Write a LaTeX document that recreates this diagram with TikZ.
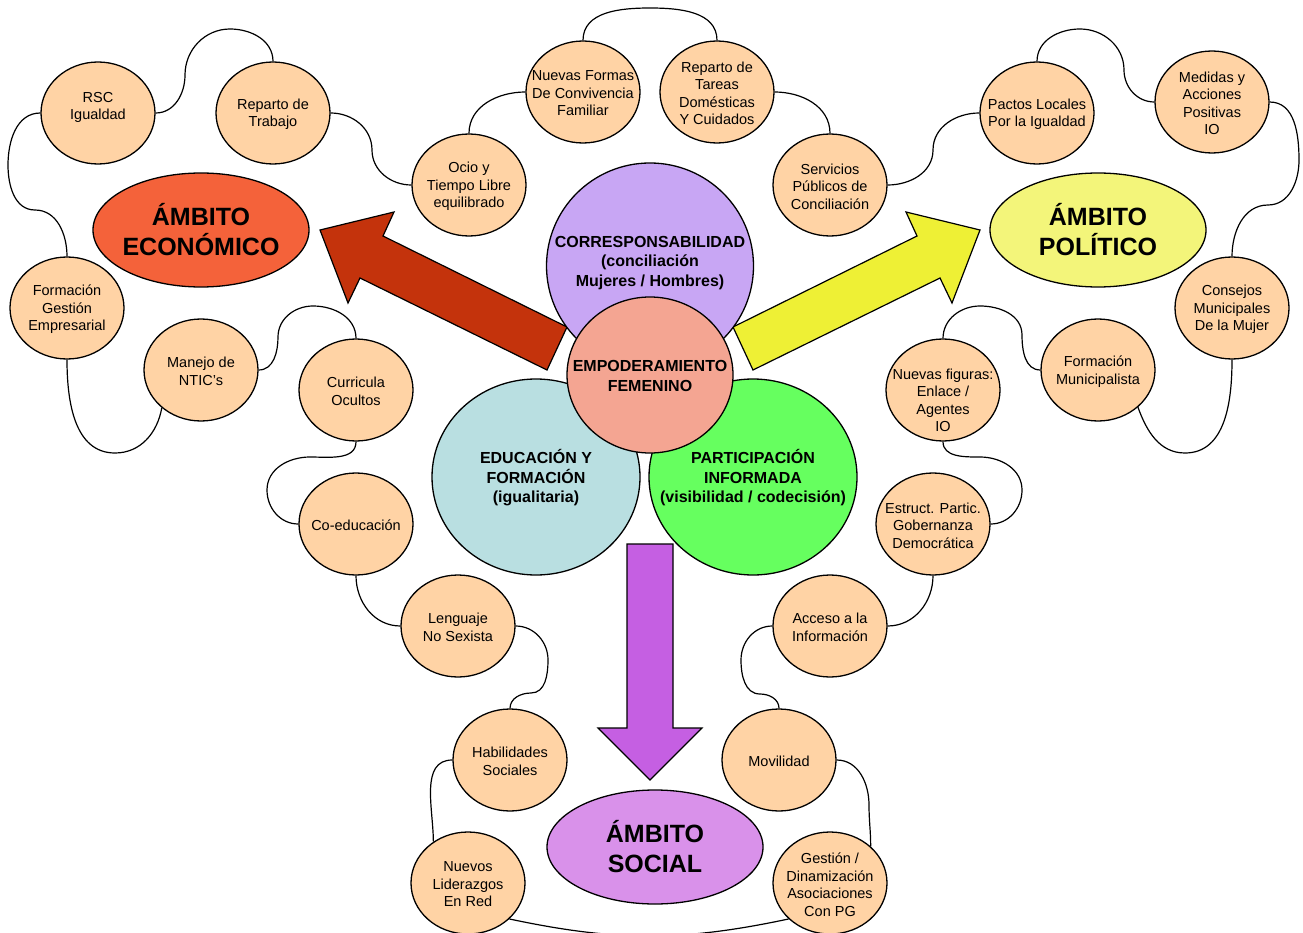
\documentclass[tikz,border=0pt]{standalone}
\usepackage{fontspec}
\setmainfont{Liberation Sans}
\usetikzlibrary{shapes.geometric}
\definecolor{peach}{HTML}{FFD3A5}
\definecolor{ecoc}{HTML}{F4623A}
\definecolor{redarr}{HTML}{C4330C}
\definecolor{polc}{HTML}{F3F57A}
\definecolor{yelarr}{HTML}{EEF035}
\definecolor{socc}{HTML}{D991EA}
\definecolor{purarr}{HTML}{C55FE2}
\definecolor{corrc}{HTML}{C8A6F4}
\definecolor{empc}{HTML}{F4A592}
\definecolor{educ}{HTML}{B9DFE1}
\definecolor{parc}{HTML}{66FF5F}
\newcommand{\bub}[3]{\node[bubble] (#1) at (#2) {}; \node[btext] (#1t) at (#1.center) {#3};}
\begin{document}
\begin{tikzpicture}[x=1pt,y=1pt,
  bubble/.style={ellipse,draw=black,line width=1.3pt,fill=peach,minimum width=114pt,minimum height=102pt,inner sep=0pt},
  btext/.style={align=center,font=\fontsize{14.5}{17.5}\selectfont,inner sep=0pt,text=black,yshift=-1.5pt},
  ambito/.style={ellipse,draw=black,line width=1.3pt,minimum width=216pt,minimum height=114pt,inner sep=0pt},
  atext/.style={align=center,font=\fontsize{25}{30}\selectfont\bfseries,inner sep=0pt},
  big/.style={ellipse,draw=black,line width=1.3pt,inner sep=0pt},
  bigtext/.style={align=center,font=\fontsize{16}{19.5}\selectfont\bfseries,inner sep=0pt,yshift=-1pt},
  link/.style={line width=1.2pt,draw=black},
  blockarrow/.style={draw=black,line width=1.2pt,line join=miter}
]
\useasboundingbox (0,0) rectangle (1303,-933);

% small bubbles
\bub{rsc}{98,-113}{RSC\\Igualdad\\\mbox{}}
\bub{rtra}{273,-113}{Reparto de\\Trabajo}
\bub{ocio}{469,-185}{Ocio y\\Tiempo Libre\\equilibrado}
\bub{nf}{583,-92}{Nuevas Formas\\De Convivencia\\Familiar}
\bub{rt}{717,-92}{Reparto de\\Tareas\\Domésticas\\Y Cuidados}
\bub{sp}{830,-185}{Servicios\\Públicos de\\Conciliación}
\bub{pl}{1037,-113}{Pactos Locales\\Por la Igualdad}
\bub{med}{1212,-102}{Medidas y\\Acciones\\Positivas\\IO}
\bub{cons}{1232,-308}{Consejos\\Municipales\\De la Mujer}
\bub{fge}{67,-308}{Formación\\Gestión\\Empresarial}
\bub{man}{201,-370}{Manejo de\\NTIC’s}
\bub{cur}{356,-390}{Curricula\\Ocultos}
\bub{coed}{356,-524}{Co-educación}
\bub{len}{458,-626}{Lenguaje\\No Sexista}
\bub{hab}{510,-760}{Habilidades\\Sociales}
\bub{lid}{468,-883}{Nuevos\\Liderazgos\\En Red}
\bub{acc}{830,-626}{Acceso a la\\Información}
\bub{mov}{779,-760}{Movilidad}
\bub{ges}{830,-883}{Gestión /\\Dinamización\\Asociaciones\\Con PG}
\bub{fm}{1098,-370}{Formación\\Municipalista}
\node[bubble] (nfig) at (943,-390) {};
\node[btext] (nfigt) at (943,-399) {Nuevas figuras:\\Enlace /\\Agentes\\IO};
\bub{est}{933,-524}{Estruct. Partic.\\Gobernanza\\Democrática}

% connectors
\draw[link] (rsc.west) to[out=180,in=90] (8,-165) to[out=-90,in=180] (35,-210) to[out=0,in=90] (fge.north);
\draw[link] (rsc.east) to[out=0,in=-90] (185,-75) to[out=90,in=180] (230,-29) to[out=0,in=90] (rtra.north);
\draw[link] (rtra.east) to[out=0,in=90] (372,-150) to[out=-90,in=180] (ocio.west);
\draw[link] (ocio.north) to[out=90,in=180] (nf.west);
\draw[link] (nf.north) to[out=90,in=180] (650,-8) to[out=0,in=90] (rt.north);
\draw[link] (rt.east) to[out=0,in=90] (sp.north);
\draw[link] (sp.east) to[out=0,in=-90] (933,-150) to[out=90,in=180] (pl.west);
\draw[link] (pl.north) to[out=90,in=180] (1080,-29) to[out=0,in=90] (1124,-70) to[out=-90,in=180] (med.west);
\draw[link] (med.east) to[out=0,in=90] (1299,-160) to[out=-90,in=0] (1268,-205) to[out=180,in=90] (cons.north);
\draw[link] (cons.south) to[out=-90,in=0] (1185,-453) to[out=180,in=-70] (fm.-43);
\draw[link] (fm.west) to[out=180,in=-90] (1022,-335) to[out=90,in=0] (980,-306) to[out=180,in=90] (nfig.north);
\draw[link] (nfig.south) to[out=-90,in=180] (980,-457) to[out=0,in=90] (1022,-490) to[out=-90,in=0] (est.east);
\draw[link] (est.south) to[out=-90,in=0] (acc.east);
\draw[link] (acc.west) to[out=180,in=90] (741,-660) to[out=-90,in=180] (760,-694) to[out=0,in=90] (mov.north);
\draw[link] (mov.east) to[out=0,in=90] (869,-805) to[out=-90,in=90] (ges.42);
\draw[link] (lid.-41) to[out=-12,in=-168] (ges.-139);
\draw[link] (lid.130) to[out=90,in=180] (hab.west);
\draw[link] (hab.north) to[out=90,in=180] (531,-693) to[out=0,in=-90] (548,-660) to[out=90,in=0] (len.east);
\draw[link] (coed.south) to[out=-90,in=180] (len.west);
\draw[link] (coed.west) to[out=180,in=-90] (267,-490) to[out=90,in=180] (310,-457) to[out=0,in=-90] (cur.south);
\draw[link] (cur.north) to[out=90,in=0] (313,-306) to[out=180,in=90] (278,-337) to[out=-90,in=0] (man.east);
\draw[link] (man.-136) to[out=-100,in=0] (115,-453) to[out=180,in=-90] (fge.south);

% block arrows
\draw[blockarrow,fill=redarr] (320,-230) -- (394,-212) -- (383,-236) -- (567,-327) -- (547,-370) -- (360,-278) -- (348,-303) -- cycle;
\draw[blockarrow,fill=yelarr] (980,-230) -- (906,-212) -- (917,-236) -- (733,-327) -- (753,-370) -- (940,-278) -- (952,-303) -- cycle;
\draw[blockarrow,fill=purarr] (627,-544) -- (673,-544) -- (673,-728) -- (702,-728) -- (650,-780) -- (598,-728) -- (627,-728) -- cycle;

% ambito ellipses
\node[ambito,fill=ecoc] (eco) at (201,-230) {};
\node[atext] (ecot) at (eco.center) {ÁMBITO\\ECONÓMICO};
\node[ambito,fill=polc] (pol) at (1098,-230) {};
\node[atext] (polt) at (pol.center) {ÁMBITO\\POLÍTICO};
\node[ambito,fill=socc] (soc) at (655,-847) {};
\node[atext] (soct) at (soc.center) {ÁMBITO\\SOCIAL};

% central circles
\node[big,fill=corrc,minimum width=207pt,minimum height=206pt] (corr) at (650,-266) {};
\node[bigtext] (corrt) at (650,-262) {CORRESPONSABILIDAD\\(conciliación\\Mujeres / Hombres)};
\node[big,fill=educ,minimum width=208pt,minimum height=196pt] (edu) at (536,-477) {};
\node[bigtext] (edut) at (edu.center) {EDUCACIÓN Y\\FORMACIÓN\\(igualitaria)};
\node[big,fill=parc,minimum width=208pt,minimum height=196pt] (par) at (753,-477) {};
\node[bigtext] (part) at (par.center) {PARTICIPACIÓN\\INFORMADA\\(visibilidad / codecisión)};
\node[big,fill=empc,minimum width=166pt,minimum height=156pt] (emp) at (650,-375) {};
\node[bigtext] (empt) at (emp.center) {EMPODERAMIENTO\\FEMENINO};
\end{tikzpicture}
\end{document}
